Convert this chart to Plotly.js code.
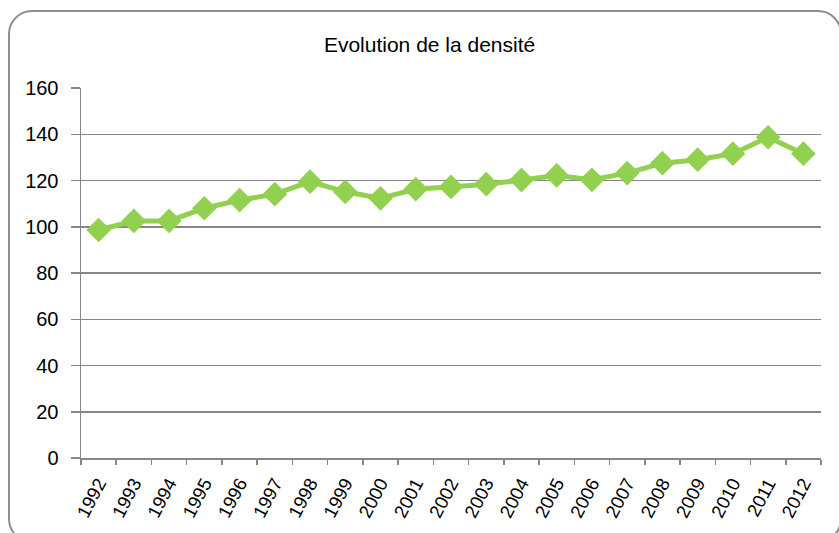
<!DOCTYPE html>
<html>
<head>
<meta charset="utf-8">
<script src="https://cdn.plot.ly/plotly-3.0.1.min.js"></script>
<style>
html, body { margin: 0; padding: 0; overflow: hidden; background: #fff; }
#frame { position: absolute; left: 8px; top: 10px; width: 834px; height: 533px; border: 2px solid #8f8f8f; border-radius: 24px; box-sizing: border-box; }
#chart { position: absolute; left: 0; top: 0; width: 839px; height: 533px; }
</style>
</head>
<body>
<div id="frame"></div>
<div id="chart"></div>
<script>
const years = ["1992","1993","1994","1995","1996","1997","1998","1999","2000","2001","2002","2003","2004","2005","2006","2007","2008","2009","2010","2011","2012"];
const densite = [98.6,102.5,102.5,108.0,111.5,114.1,119.5,115.1,112.3,116.3,117.2,118.4,120.2,122.2,120.3,123.2,127.5,129.0,131.6,138.7,131.6];
const yTicks = [0,20,40,60,80,100,120,140,160];

const trace = {
  x: years,
  y: densite,
  type: 'scatter',
  mode: 'lines+markers',
  line: { color: '#92D050', width: 5 },
  marker: { symbol: 'diamond', size: 19, color: '#92D050' },
  hoverinfo: 'x+y'
};

const layout = {
  width: 839, height: 533,
  paper_bgcolor: 'rgba(0,0,0,0)',
  plot_bgcolor: 'rgba(0,0,0,0)',
  margin: { l: 81, r: 18, t: 88, b: 75 },
  showlegend: false,
  title: { text: 'Evolution de la densité', x: 0.512, xanchor: 'center', y: 0.917, yanchor: 'middle',
           font: { family: 'Liberation Sans, Arial, sans-serif', size: 21, color: '#000' } },
  font: { family: 'Liberation Sans, Arial, sans-serif', size: 20, color: '#000' },
  xaxis: {
    type: 'category',
    range: [-0.5, 20.5],
    tickangle: -62,
    ticks: 'outside', ticklen: 5, tickcolor: '#868686', tickwidth: 1.5, tickson: 'boundaries',
    showline: true, linecolor: '#868686', linewidth: 1.5,
    showgrid: false, zeroline: false,
    tickfont: { size: 18.5, color: '#000' },
    ticklabelstandoff: 6,
    fixedrange: true
  },
  yaxis: {
    range: [0, 160],
    tickvals: yTicks,
    ticktext: yTicks.map(String),
    ticks: 'outside', ticklen: 9, tickcolor: '#868686', tickwidth: 1.5,
    showline: true, linecolor: '#868686', linewidth: 1.5,
    showgrid: true, gridcolor: '#868686', gridwidth: 1.5,
    zeroline: false,
    tickfont: { size: 20, color: '#000' },
    ticklabelstandoff: 8,
    fixedrange: true
  }
};

Plotly.newPlot('chart', [trace], layout, { displayModeBar: false, staticPlot: true });
</script>
</body>
</html>
